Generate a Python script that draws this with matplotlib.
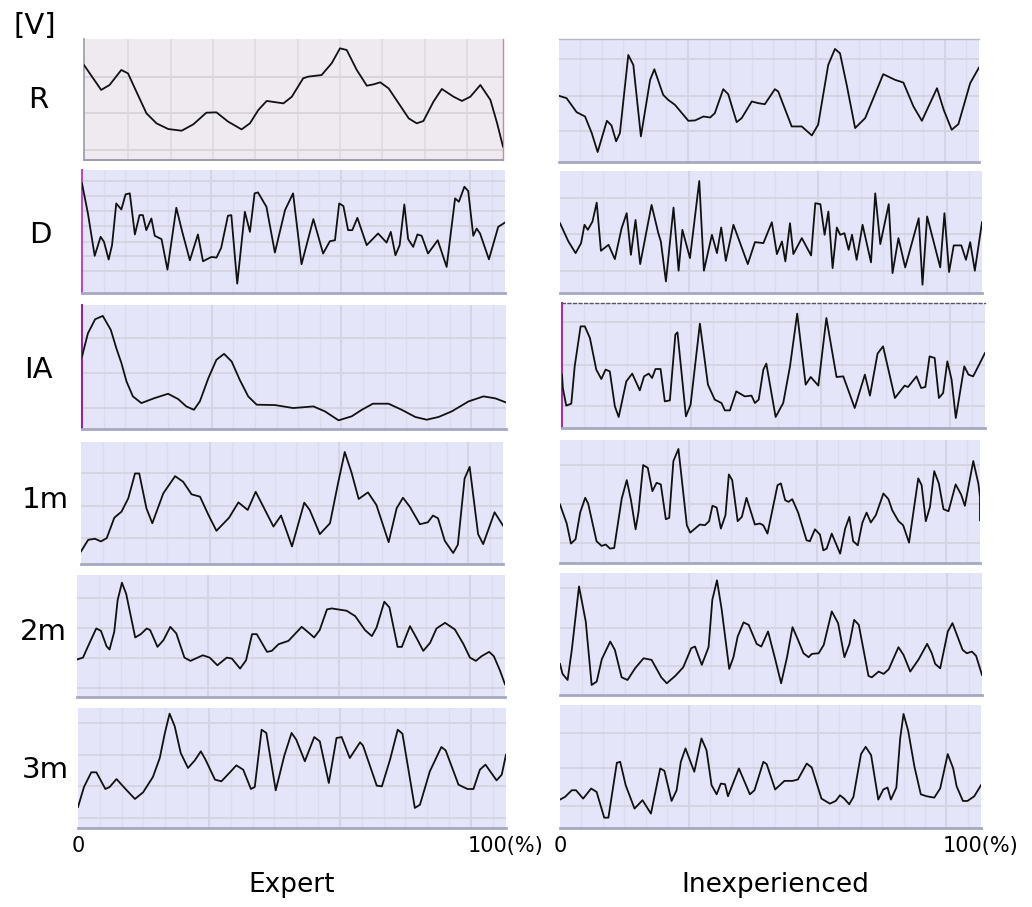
import matplotlib
matplotlib.use("Agg")
import matplotlib.pyplot as plt

# ---------------- data (x in % of cycle, y in % of panel height) ----------------
row_labels = ["R", "D", "IA", "1m", "2m", "3m"]
col_titles = ["Expert", "Inexperienced"]
tick_labels = ["0", "100(%)"]

r_exp_x = [0, 4.1, 6.1, 8.9, 10.5, 12.5, 14.9, 17.3, 20.1, 23.3, 26.1, 29.2, 31.6, 34.4, 37.6, 39.6, 41.6, 43.6, 47.6, 49.6, 52.3, 53.5, 56.7, 59.1, 61.1, 62.7, 65.1, 67.5, 69.1, 70.7, 72.7, 75.1, 77.5, 79.4, 81.0, 83.4, 85.4, 88.2, 90.2, 92.2, 94.6, 97.0, 98.6, 100]
r_exp_y = [78.5, 57.9, 62, 74.4, 71.6, 56.5, 38.6, 30.3, 25.6, 24.2, 29.5, 39.1, 39.4, 31.7, 25.3, 30.3, 41.3, 48.8, 46.8, 52.3, 67.5, 68.9, 70.2, 79.9, 92.3, 90.9, 74.4, 61.4, 62.5, 64.2, 59.2, 46.8, 34.4, 30.3, 32.2, 48.2, 58.7, 52.3, 48.8, 52.3, 62.0, 49.6, 30.3, 11.0]

r_inx_x = [0, 1.8, 4.2, 6.2, 7.8, 9.2, 11.4, 12.5, 13.6, 14.5, 16.5, 17.7, 19.5, 21.7, 22.7, 24.8, 26.0, 27.6, 30.8, 32.4, 34.4, 36.0, 37.1, 39.1, 40.3, 42.3, 43.5, 45.9, 47.5, 49.0, 51.4, 52.2, 55.4, 57.8, 60.2, 61.7, 64.1, 65.7, 66.9, 68.5, 70.5, 72.9, 77.2, 80.0, 82.0, 84.4, 86.4, 90.0, 91.6, 93.5, 95.1, 97.9, 100]
r_inx_y = [53.8, 51.9, 40.5, 37.0, 23.5, 8.1, 33.5, 29.7, 16.8, 23.5, 87.0, 78.9, 20.8, 66.8, 75.4, 54.6, 50.5, 46.5, 33.5, 33.8, 37.0, 36.2, 39.7, 59.2, 55.1, 32.4, 35.7, 49.2, 47.8, 47.0, 59.2, 57.3, 28.9, 28.9, 21.6, 30.3, 78.9, 91.9, 88.4, 62.7, 27.6, 35.7, 71.4, 66.8, 64.6, 45.1, 33.5, 60.0, 42.4, 26.2, 30.8, 64.1, 76.8]

d_exp_x = [0, 1.4, 3.0, 4.4, 5.2, 6.3, 7.1, 8.1, 9.3, 10.3, 11.3, 12.5, 13.6, 14.4, 15.2, 16.4, 17.2, 18.8, 20.2, 22.3, 23.7, 25.5, 27.4, 28.6, 30.6, 31.8, 32.9, 34.5, 35.3, 36.7, 38.5, 39.7, 40.8, 41.6, 43.6, 45.6, 48.0, 49.9, 51.9, 54.7, 57.0, 58.6, 59.8, 60.8, 61.8, 62.9, 63.9, 65.1, 67.3, 70.0, 72.0, 73.0, 74.1, 75.1, 76.2, 77.1, 78.3, 79.3, 80.3, 81.8, 84.1, 86.2, 88.2, 89.1, 90.4, 91.3, 92.5, 93.3, 94.1, 96.2, 98.4, 100]
d_exp_y = [89.1, 64.7, 30.2, 45.7, 41.6, 27.2, 38.9, 72.8, 67.9, 80.2, 81.0, 47.6, 63.3, 63.3, 51.1, 60.6, 46.5, 43.8, 19.0, 69.3, 49.7, 26.6, 47.6, 25.8, 29.3, 28.8, 36.7, 62.8, 63.3, 7.6, 66.0, 49.7, 81.0, 81.8, 70.1, 32.9, 67.4, 81.0, 23.4, 60.1, 32.1, 42.1, 42.9, 72.8, 70.7, 51.1, 51.1, 61.1, 38.9, 48.4, 41.0, 49.7, 30.7, 38.9, 72.0, 43.8, 37.5, 47.6, 46.5, 32.1, 42.9, 21.2, 76.9, 74.2, 86.4, 82.9, 46.5, 52.4, 48.4, 27.4, 53.8, 57.3]

d_inx_x = [0, 2.0, 3.7, 5.0, 5.8, 6.6, 7.7, 8.7, 9.7, 11.5, 13.0, 14.6, 15.8, 16.8, 17.9, 19.0, 21.7, 23.3, 23.9, 25.1, 26.9, 28.1, 29.0, 30.8, 33.0, 34.1, 36.0, 37.2, 38.2, 39.3, 41.1, 44.5, 46.2, 48.2, 50.2, 51.4, 52.6, 53.4, 54.5, 55.3, 57.3, 59.5, 60.5, 61.7, 62.7, 63.6, 64.6, 65.6, 66.4, 67.4, 68.4, 69.2, 70.3, 71.7, 73.7, 74.7, 75.9, 77.9, 78.8, 80.2, 81.8, 85.0, 85.9, 87.0, 90.1, 91.1, 92.2, 93.3, 95.1, 96.2, 97.2, 98.3, 100]
d_inx_y = [57.2, 42.2, 32.7, 40.9, 55.9, 51.8, 58.6, 74.1, 34.6, 39.5, 27.8, 53.1, 65.4, 31.3, 59.9, 23.7, 72.2, 49.0, 42.2, 9.5, 70.0, 18.3, 51.8, 28.6, 91.8, 18.3, 47.7, 32.7, 53.7, 26.4, 55.9, 23.7, 41.7, 40.9, 58.0, 31.9, 42.2, 25.9, 57.2, 31.9, 45.0, 30.8, 73.6, 72.8, 47.7, 66.8, 20.4, 53.7, 47.7, 49.0, 35.4, 47.7, 27.2, 55.9, 25.1, 81.7, 40.1, 72.8, 16.3, 45.0, 21.0, 61.3, 6.8, 62.7, 21.0, 65.4, 17.2, 39.0, 39.0, 27.2, 41.7, 18.3, 58.0]

ia_exp_x = [0, 1.4, 3.1, 4.9, 6.8, 8.1, 9.3, 10.5, 12.0, 14.0, 17.1, 20.3, 22.7, 24.6, 26.4, 27.8, 29.8, 31.7, 33.5, 35.3, 37.2, 39.2, 41.2, 45.5, 49.8, 54.6, 57.3, 60.5, 63.6, 66.0, 68.6, 72.3, 75.4, 78.6, 81.3, 84.1, 87.2, 91.2, 94.7, 97.5, 100]
ia_exp_y = [58.4, 77.2, 88.5, 91.2, 79.9, 65.1, 53.1, 38.3, 26.3, 20.9, 24.9, 28.4, 24.1, 18.2, 15.5, 22.3, 41.0, 55.8, 60.6, 54.4, 39.7, 26.3, 19.6, 19.3, 16.9, 18.2, 14.2, 7.0, 10.2, 15.5, 20.4, 20.4, 15.5, 9.7, 7.5, 9.7, 14.2, 22.3, 26.3, 24.7, 21.4]

ia_inx_x = [0, 0.2, 1.0, 2.2, 3.0, 4.4, 5.4, 6.6, 8.1, 9.3, 10.3, 11.3, 12.5, 13.4, 15.2, 16.6, 18.4, 19.4, 20.5, 21.3, 22.1, 23.3, 24.3, 25.5, 26.8, 27.3, 29.3, 30.4, 32.6, 34.5, 36.1, 37.7, 38.5, 39.7, 41.2, 43.2, 44.8, 45.6, 46.5, 47.6, 48.3, 50.5, 52.3, 53.9, 55.6, 57.6, 58.8, 60.6, 62.5, 64.9, 66.5, 69.2, 71.6, 72.8, 74.6, 75.9, 78.7, 81.0, 81.8, 83.8, 84.9, 85.9, 86.9, 88.1, 89.1, 90.1, 91.1, 92.1, 93.1, 95.1, 96.1, 97.2, 100]
ia_inx_y = [42.7, 32.0, 17.9, 19.5, 49.3, 81.3, 81.3, 72.0, 46.7, 39.2, 46.7, 45.3, 17.3, 8.8, 37.3, 43.5, 30.1, 41.3, 43.5, 40.0, 47.2, 47.2, 21.3, 22.1, 74.7, 76.5, 9.3, 18.7, 83.5, 34.7, 22.7, 20.0, 14.1, 14.1, 29.3, 25.3, 25.9, 20.0, 22.7, 46.7, 51.5, 8.8, 20.0, 49.3, 91.5, 34.7, 40.8, 33.9, 88.0, 40.8, 41.3, 16.0, 42.7, 25.9, 59.5, 65.3, 24.0, 33.9, 32.8, 41.3, 32.0, 32.8, 57.3, 56.0, 24.0, 28.0, 53.3, 38.7, 8.0, 49.3, 42.7, 41.3, 60.0]

m1_exp_x = [0, 1.7, 3.3, 4.7, 6.1, 7.9, 9.6, 11.2, 12.8, 13.8, 15.5, 16.9, 19.5, 22.3, 24.2, 26.2, 28.2, 30.2, 32.1, 35.1, 37.3, 39.5, 41.4, 43.6, 45.6, 47.4, 50.0, 52.9, 54.2, 56.6, 59.0, 60.9, 62.5, 64.1, 65.8, 68.0, 70.0, 72.9, 74.8, 76.3, 77.9, 80.3, 82.2, 83.4, 84.6, 86.2, 88.2, 89.3, 90.9, 92.1, 94.1, 95.3, 98.0, 100]
m1_exp_y = [10.3, 19.8, 20.7, 18.5, 21.2, 38.0, 42.9, 53.8, 74.2, 74.2, 45.7, 33.4, 57.9, 72.0, 67.4, 57.1, 55.2, 40.2, 27.2, 38.0, 50.5, 44.3, 59.2, 44.3, 30.7, 39.7, 14.4, 50.3, 44.3, 24.5, 33.4, 66.0, 91.8, 75.0, 53.3, 58.7, 48.4, 17.9, 45.7, 54.3, 47.0, 32.6, 34.2, 39.7, 37.5, 19.0, 9.0, 15.8, 70.1, 79.6, 24.5, 16.3, 42.4, 31.5]

m1_inx_x = [0, 1.6, 2.6, 3.7, 4.8, 6.0, 6.7, 8.7, 9.9, 10.9, 11.9, 12.9, 14.7, 15.9, 16.9, 18.0, 18.7, 19.8, 20.9, 22.0, 23.0, 24.0, 25.2, 26.0, 27.0, 28.2, 30.2, 31.0, 33.3, 34.5, 35.5, 36.3, 37.3, 38.3, 39.4, 40.2, 41.0, 42.3, 43.3, 44.4, 46.4, 47.6, 48.4, 49.4, 51.8, 52.6, 53.6, 54.4, 55.3, 56.7, 58.7, 59.5, 60.7, 61.9, 62.7, 63.5, 64.7, 66.7, 67.9, 68.9, 69.8, 70.9, 72.0, 73.0, 74.0, 75.2, 77.0, 78.2, 79.1, 80.6, 81.7, 83.1, 85.3, 86.1, 87.1, 88.1, 89.1, 90.2, 91.3, 92.5, 94.2, 95.5, 96.4, 98.4, 99.6, 100, 100]
m1_inx_y = [47.6, 32.1, 15.8, 19.3, 41.0, 53.0, 48.4, 17.7, 13.9, 15.0, 11.7, 12.2, 52.4, 67.4, 51.1, 27.4, 41.6, 79.6, 77.4, 58.4, 65.2, 63.9, 35.6, 36.7, 82.9, 92.7, 30.7, 24.7, 31.3, 30.7, 34.0, 46.5, 45.1, 28.0, 38.9, 72.0, 67.4, 34.0, 37.5, 53.0, 31.3, 32.1, 30.7, 23.9, 63.3, 64.7, 51.1, 49.7, 51.9, 41.0, 18.5, 17.7, 27.4, 23.1, 10.3, 11.7, 23.9, 7.6, 28.0, 37.5, 17.7, 14.4, 32.9, 41.0, 32.9, 38.9, 56.5, 51.9, 42.9, 34.0, 30.7, 16.6, 68.8, 63.3, 34.0, 45.7, 74.7, 64.7, 43.8, 42.1, 63.9, 55.7, 46.5, 82.9, 64.7, 53.8, 34.8]

m2_exp_x = [0, 1.4, 2.7, 4.5, 5.6, 6.9, 7.6, 8.7, 9.5, 10.5, 11.5, 13.6, 14.9, 16.3, 17.1, 18.8, 20.2, 21.8, 23.2, 25.1, 26.5, 29.4, 31.0, 32.8, 35.0, 36.2, 38.1, 39.5, 40.9, 42.0, 44.4, 45.5, 47.1, 49.4, 52.5, 53.9, 55.4, 56.7, 58.4, 59.5, 63.0, 65.0, 67.3, 68.9, 70.0, 71.8, 73.0, 74.9, 75.9, 77.8, 79.4, 80.9, 82.5, 84.0, 86.0, 88.3, 90.3, 91.8, 93.2, 94.5, 96.3, 97.4, 98.8, 100]
m2_exp_y = [30.7, 32.3, 42.5, 56.2, 54.2, 41.6, 38.9, 53.4, 79.5, 93.7, 84.4, 48.8, 51.5, 56.2, 54.8, 41.1, 46.6, 57.5, 52.1, 32.3, 29.6, 34.2, 32.3, 26.0, 32.3, 31.5, 23.3, 30.1, 51.5, 51.5, 37.0, 37.8, 43.3, 46.0, 57.5, 53.4, 48.8, 54.8, 71.8, 72.6, 70.7, 66.3, 54.8, 49.9, 57.0, 78.1, 73.4, 41.1, 41.1, 58.1, 47.9, 37.8, 44.4, 56.2, 60.8, 55.3, 43.3, 32.3, 29.6, 33.4, 37.0, 33.4, 21.9, 10.4]

m2_inx_x = [0, 0.6, 1.8, 2.8, 4.5, 6.1, 7.5, 8.7, 9.9, 11.9, 13.0, 14.6, 16.0, 17.8, 19.8, 21.7, 24.0, 25.3, 27.3, 29.2, 31.1, 32.0, 33.6, 35.2, 36.1, 37.2, 38.3, 40.1, 41.1, 42.1, 43.5, 44.7, 46.6, 47.7, 49.3, 51.0, 52.4, 53.8, 55.1, 56.4, 57.7, 58.9, 59.7, 61.3, 62.5, 64.4, 65.9, 67.4, 68.6, 69.7, 70.8, 73.1, 73.9, 75.5, 76.7, 77.9, 80.2, 81.4, 83.0, 85.0, 87.0, 88.1, 88.9, 90.1, 91.9, 93.0, 95.4, 96.4, 97.6, 98.6, 100]
m2_inx_y = [25.5, 17.3, 12.3, 37.0, 89.0, 60.3, 8.2, 11.0, 29.3, 43.8, 37.0, 14.5, 12.3, 21.9, 30.1, 28.8, 14.5, 9.6, 15.6, 22.7, 38.4, 39.7, 24.7, 39.2, 78.1, 94.0, 70.4, 21.4, 31.0, 47.9, 59.5, 57.5, 41.9, 39.7, 52.1, 29.3, 9.6, 31.0, 55.6, 45.2, 34.2, 31.0, 33.7, 34.2, 41.1, 68.5, 58.9, 31.0, 41.9, 61.6, 57.5, 15.6, 14.5, 19.2, 17.3, 21.1, 39.2, 32.9, 19.2, 29.3, 41.9, 34.2, 25.5, 21.9, 52.1, 58.9, 37.0, 34.2, 35.6, 32.1, 16.4]

m3_exp_x = [0, 1.4, 3.1, 4.3, 6.4, 7.4, 9.0, 10.9, 13.3, 15.2, 17.5, 19.1, 20.3, 21.4, 22.6, 24.0, 25.7, 27.3, 28.7, 29.8, 32.0, 33.5, 35.5, 37.0, 38.6, 40.4, 41.3, 42.9, 44.0, 46.2, 48.2, 49.9, 51.0, 53.0, 55.2, 56.5, 58.6, 60.4, 61.6, 63.5, 65.9, 66.6, 69.8, 71.0, 72.9, 74.7, 75.8, 78.7, 79.9, 82.2, 84.9, 85.9, 88.9, 91.0, 92.4, 93.9, 95.2, 97.8, 99.0, 100]
m3_exp_y = [17.5, 34.2, 46.4, 46.4, 32.5, 34.2, 40.8, 33.3, 24.2, 29.7, 42.5, 58.3, 79.2, 95.3, 84.7, 62.5, 50.0, 56.4, 63.9, 56.9, 40.3, 38.9, 46.4, 52.2, 48.6, 32.5, 34.2, 81.9, 79.2, 31.4, 60.3, 79.2, 73.6, 55.6, 75.8, 72.2, 37.5, 75.0, 75.8, 58.3, 71.4, 68.6, 35.3, 34.7, 56.9, 81.9, 78.6, 16.7, 19.4, 47.2, 67.5, 64.7, 36.1, 32.5, 32.5, 48.6, 52.8, 39.7, 44.4, 61.1]

m3_inx_x = [0, 1.2, 2.8, 3.8, 5.5, 7.4, 8.7, 10.5, 11.5, 13.5, 14.3, 15.6, 17.7, 19.6, 21.6, 23.8, 24.8, 26.5, 27.7, 28.7, 29.8, 31.9, 33.6, 34.8, 36.0, 37.2, 38.2, 39.2, 39.9, 42.5, 45.1, 46.2, 48.3, 49.1, 51.1, 53.3, 55.2, 56.5, 58.6, 59.8, 62.1, 64.1, 65.5, 66.5, 67.5, 68.7, 69.7, 71.5, 72.6, 73.9, 75.6, 76.8, 77.8, 78.6, 79.9, 80.8, 81.6, 82.7, 84.2, 85.7, 87.1, 88.9, 90.3, 92.1, 93.4, 94.2, 95.7, 96.8, 98.4, 100]
m3_inx_y = [23.1, 25.3, 30.7, 30.7, 23.9, 32.1, 29.3, 8.4, 8.4, 53.0, 53.8, 34.8, 15.8, 22.6, 11.7, 48.4, 46.5, 22.0, 30.7, 53.8, 64.7, 45.7, 72.8, 63.3, 34.8, 27.4, 36.1, 35.6, 25.8, 48.4, 27.4, 30.7, 53.8, 51.9, 31.3, 38.3, 38.3, 39.4, 52.4, 49.2, 23.9, 19.8, 22.0, 26.6, 23.9, 19.3, 25.3, 60.1, 66.0, 59.2, 23.1, 31.3, 32.9, 23.1, 32.9, 72.8, 92.7, 79.1, 49.7, 27.4, 25.8, 24.7, 32.1, 60.1, 48.4, 34.0, 22.0, 22.0, 25.8, 34.8]

series = [
    [(r_exp_x, r_exp_y), (r_inx_x, r_inx_y)],
    [(d_exp_x, d_exp_y), (d_inx_x, d_inx_y)],
    [(ia_exp_x, ia_exp_y), (ia_inx_x, ia_inx_y)],
    [(m1_exp_x, m1_exp_y), (m1_inx_x, m1_inx_y)],
    [(m2_exp_x, m2_exp_y), (m2_inx_x, m2_inx_y)],
    [(m3_exp_x, m3_exp_y), (m3_inx_x, m3_inx_y)],
]

# ---------------- layout (pixels: left, right, top, bottom) ----------------
W, H = 1032, 907
boxes = [
    [(84, 503, 39, 160), (559, 979, 39, 162)],
    [(82, 505, 170, 293), (560, 982, 171, 293)],
    [(82, 506, 305, 429), (562, 985, 303, 428)],
    [(81, 503, 442, 564), (560, 980, 440, 563)],
    [(77, 505, 575, 697), (560, 982, 573, 695)],
    [(78, 506, 708, 828), (560, 981, 705, 828)],
]
hgrid = [
    [(8, 39, 69), (25, 54, 84)],
    [(17.7, 30.2, 41.6, 54.3, 66.6, 79, 91), (18.3, 48.2, 77.7)],
    [(16.9, 45, 73.2), (17.3, 50.1, 84.5)],
    [(21.2, 47.8, 74.7), (16.3, 47.6, 79.6)],
    [(7.7, 32.3, 56.7, 80.8), (24.1, 55.3, 87.7)],
    [(8.3, 34.7, 61.1, 87.5), (18.2, 48.4, 76.9)],
]
left_magenta = {(1, 0): "#b050c0", (2, 0): "#8a2a9a", (2, 1): "#a030a8"}

BG = "#e5e5fa"
BG_R = "#eeeaf0"
GRID_MINOR = "#dcdcec"
GRID_MAJOR = "#d4d4e3"

fig = plt.figure(figsize=(W / 100, H / 100), dpi=100)
fig.patch.set_facecolor("white")

for r in range(6):
    for c in range(2):
        L, R_, T, B = boxes[r][c]
        ax = fig.add_axes([L / W, 1 - B / H, (R_ - L) / W, (B - T) / H])
        expert_r = (r == 0 and c == 0)
        ax.set_facecolor(BG_R if expert_r else BG)
        ax.set_xlim(0, 100)
        ax.set_ylim(0, 100)
        # grid
        if expert_r:
            for k in range(1, 10):
                ax.axvline(10.1 * k + 0.5, color="#dbd8e0", lw=1.1, zorder=1)
        else:
            for k in range(1, 20):
                major = (k % 6 == 0)
                ax.axvline(5.1 * k, color=GRID_MAJOR if major else GRID_MINOR,
                           lw=1.5 if major else 1.0, zorder=1)
        for yv in hgrid[r][c]:
            ax.axhline(yv, color=GRID_MAJOR if not expert_r else "#d8d5dd", lw=1.4, zorder=1)
        xs, ys = series[r][c]
        ax.plot(xs, ys, color="#111111", lw=1.3, zorder=3, solid_joinstyle="round")
        # spines
        for s in ("top", "right", "left"):
            ax.spines[s].set_visible(False)
        ax.spines["bottom"].set_color("#a6a8c2")
        ax.spines["bottom"].set_linewidth(2.0)
        if (r, c) in left_magenta:
            ax.spines["left"].set_visible(True)
            ax.spines["left"].set_color(left_magenta[(r, c)])
            ax.spines["left"].set_linewidth(1.5)
        if expert_r:
            ax.spines["left"].set_visible(True)
            ax.spines["left"].set_color("#9a9aa8")
            ax.spines["left"].set_linewidth(1.2)
            ax.spines["right"].set_visible(True)
            ax.spines["right"].set_color("#d08898")
            ax.spines["right"].set_linewidth(1.0)
            ax.spines["bottom"].set_color("#9c9cae")
            ax.spines["bottom"].set_linewidth(1.4)
        if (r, c) == (2, 1):
            ax.spines["top"].set_visible(True)
            ax.spines["top"].set_color("#555566")
            ax.spines["top"].set_linestyle((0, (2, 2)))
            ax.spines["top"].set_linewidth(1.0)
        if (r, c) == (0, 1):
            ax.spines["top"].set_visible(True)
            ax.spines["top"].set_color("#b8b8c8")
            ax.spines["top"].set_linewidth(1.0)
        ax.set_yticks([])
        if r == 5:
            ax.set_xticks([0, 100])
            ax.set_xticklabels(tick_labels, fontsize=15)
            ax.tick_params(axis="x", length=0, pad=6)
        else:
            ax.set_xticks([])


def ftext(x, y, s, size, **kw):
    fig.text(x / W, 1 - y / H, s, fontsize=size, ha="center", va="center",
             family="DejaVu Sans", **kw)


ftext(35, 26, "[V]", 21)
label_y = [100, 235, 370, 500, 632, 770]
label_x = [38, 40, 38, 45, 43, 45]
for lab, lx, ly in zip(row_labels, label_x, label_y):
    ftext(lx, ly, lab, 21)
ftext(292, 885, col_titles[0], 19)
ftext(775, 885, col_titles[1], 19)

fig.savefig("out.png", dpi=100, facecolor="white")
